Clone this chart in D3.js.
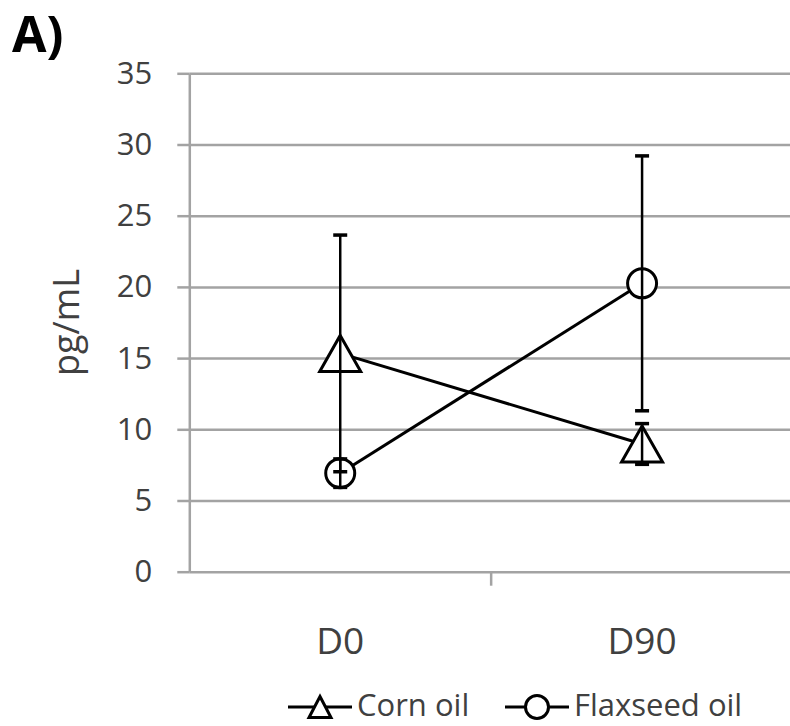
<!DOCTYPE html>
<html>
<head>
    <meta charset="utf-8">
    <script src="https://d3js.org/d3.v7.min.js"></script>
    <style type="text/css">
        html,
        body {
            margin: 0;
            background: #fff;
        }

        svg {
            display: block;
            font-family: "Open Sans", "Noto Sans", sans-serif;
        }
    </style>
</head>

<body>
    <script type="text/javascript">
        // values
        var categories = ["D0", "D90"];
        var cornMean = [15.33, 8.97];
        var cornErr = [8.31, 1.43];
        var flaxMean = [6.92, 20.25];
        var flaxErr = [1.0, 8.95];
        var yTicks = [0, 5, 10, 15, 20, 25, 30, 35];
        var seriesNames = ["Corn oil", "Flaxseed oil"];

        var W = 790,
            H = 726,
            plotLeft = 189.3,
            plotRight = 793,
            plotTop = 73.3,
            plotBottom = 571.7;

        var gridColor = "#a3a3a3",
            textColor = "#404040";

        var svg = d3.select("body").append("svg")
            .attr("width", W)
            .attr("height", H);

        var x = d3.scaleBand().domain(categories).range([plotLeft, plotRight]);
        var y = d3.scaleLinear().domain([0, 35]).range([plotBottom, plotTop]);
        var cx = function(c) { return x(c) + x.bandwidth() / 2; };

        // panel letter
        svg.append("text")
            .attr("x", 12)
            .attr("y", 52)
            .attr("font-size", 50)
            .attr("font-weight", "bold")
            .attr("fill", "#000")
            .text("A)");

        // gridlines
        svg.append("g")
            .attr("transform", "translate(" + plotLeft + ",0)")
            .call(d3.axisRight(y).tickValues(yTicks).tickSize(plotRight - plotLeft).tickFormat(""))
            .call(function(g) {
                g.select(".domain").remove();
                g.selectAll("line").attr("stroke", gridColor).attr("stroke-width", 2.5);
            });

        // y axis with outside ticks and labels
        svg.append("g")
            .attr("transform", "translate(" + plotLeft + ",0)")
            .call(d3.axisLeft(y).tickValues(yTicks).tickSize(12).tickSizeOuter(0).tickPadding(25))
            .call(function(g) {
                g.select(".domain").attr("stroke", gridColor).attr("stroke-width", 2.5);
                g.selectAll("line").attr("stroke", gridColor).attr("stroke-width", 2.5);
                g.selectAll("text")
                    .attr("font-size", 31)
                    .attr("font-family", "Open Sans, sans-serif")
                    .attr("fill", textColor);
            });

        // x axis: category labels + tick marks between categories
        svg.append("g")
            .attr("transform", "translate(0," + plotBottom + ")")
            .call(d3.axisBottom(x).tickSize(0).tickPadding(56))
            .call(function(g) {
                g.select(".domain").remove();
                g.selectAll("text")
                    .attr("font-size", 37)
                    .attr("font-family", "Open Sans, sans-serif")
                    .attr("fill", textColor);
            });

        svg.append("g").selectAll("line")
            .data(categories.slice(1))
            .join("line")
            .attr("x1", function(d) { return x(d); })
            .attr("x2", function(d) { return x(d); })
            .attr("y1", plotBottom)
            .attr("y2", plotBottom + 14)
            .attr("stroke", gridColor)
            .attr("stroke-width", 2.5);

        // y axis title
        svg.append("text")
            .attr("transform", "translate(79," + ((plotTop + plotBottom) / 2) + ") rotate(-90)")
            .attr("text-anchor", "middle")
            .attr("font-size", 36)
            .attr("fill", textColor)
            .text("pg/mL");

        var tri = function(w, h) {
            return "M0," + (-h / 2) + "L" + (w / 2) + "," + (h / 2) + "L" + (-w / 2) + "," + (h / 2) + "Z";
        };

        var series = [
            { name: seriesNames[0], mean: cornMean, err: cornErr, shape: "tri" },
            { name: seriesNames[1], mean: flaxMean, err: flaxErr, shape: "circle" }
        ];

        var line = d3.line()
            .x(function(d) { return cx(d.c); })
            .y(function(d) { return y(d.v); });

        var pts = function(s) {
            return categories.map(function(c, i) {
                return { c: c, v: s.mean[i], e: s.err[i] };
            });
        };

        // connecting lines
        svg.append("g").selectAll("path")
            .data(series)
            .join("path")
            .attr("d", function(s) { return line(pts(s)); })
            .attr("fill", "none")
            .attr("stroke", "#000")
            .attr("stroke-width", 3);

        // markers
        series.forEach(function(s) {
            var g = svg.append("g");
            if (s.shape == "tri") {
                g.selectAll("path")
                    .data(pts(s))
                    .join("path")
                    .attr("d", tri(41, 36))
                    .attr("transform", function(d) { return "translate(" + cx(d.c) + "," + y(d.v) + ")"; })
                    .attr("fill", "#fff")
                    .attr("stroke", "#000")
                    .attr("stroke-width", 3);
            } else {
                g.selectAll("circle")
                    .data(pts(s))
                    .join("circle")
                    .attr("cx", function(d) { return cx(d.c); })
                    .attr("cy", function(d) { return y(d.v); })
                    .attr("r", 14.5)
                    .attr("fill", "#fff")
                    .attr("stroke", "#000")
                    .attr("stroke-width", 3);
            }
        });

        // error bars on top
        series.forEach(function(s) {
            var g = svg.append("g").selectAll("g")
                .data(pts(s))
                .join("g")
                .attr("stroke", "#000")
                .attr("stroke-width", 2.5);
            g.append("line")
                .attr("x1", function(d) { return cx(d.c); })
                .attr("x2", function(d) { return cx(d.c); })
                .attr("y1", function(d) { return y(d.v + d.e); })
                .attr("y2", function(d) { return y(d.v - d.e); });
            [1, -1].forEach(function(sign) {
                g.append("line")
                    .attr("x1", function(d) { return cx(d.c) - 7; })
                    .attr("x2", function(d) { return cx(d.c) + 7; })
                    .attr("y1", function(d) { return y(d.v + sign * d.e); })
                    .attr("y2", function(d) { return y(d.v + sign * d.e); })
                    .attr("stroke-width", 3.5);
            });
        });

        // legend
        var legend = svg.append("g");
        var legendX = [288, 505],
            legendY = 707;
        series.forEach(function(s, i) {
            var g = legend.append("g").attr("transform", "translate(" + legendX[i] + "," + legendY + ")");
            g.append("line")
                .attr("x1", 0).attr("x2", 64)
                .attr("stroke", "#000").attr("stroke-width", 3);
            if (s.shape == "tri") {
                g.append("path")
                    .attr("d", tri(22, 21))
                    .attr("transform", "translate(32,0)")
                    .attr("fill", "#fff")
                    .attr("stroke", "#000")
                    .attr("stroke-width", 3);
            } else {
                g.append("circle")
                    .attr("cx", 32).attr("r", 11.5)
                    .attr("fill", "#fff")
                    .attr("stroke", "#000")
                    .attr("stroke-width", 3);
            }
            g.append("text")
                .attr("x", 69)
                .attr("y", 9)
                .attr("font-size", 31)
                .attr("fill", textColor)
                .text(s.name);
        });
    </script>
</body>
</html>
